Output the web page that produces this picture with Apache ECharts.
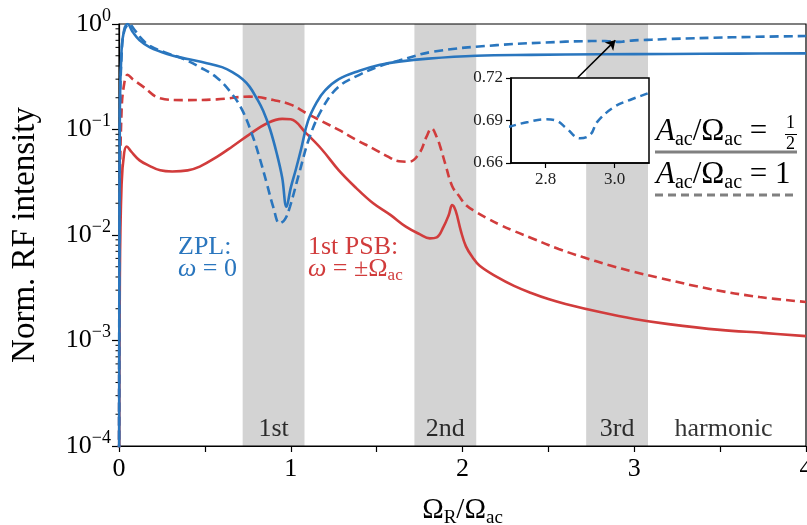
<!DOCTYPE html>
<html>
<head>
<meta charset="utf-8">
<script src="https://cdn.jsdelivr.net/npm/echarts@6/dist/echarts.min.js"></script>
<style>html,body{margin:0;padding:0;background:#fff}#main{width:807px;height:525px}</style>
</head>
<body>
<div id="main"></div>
<script>
// ZPL (omega = 0), A/Omega = 1/2 (solid) and 1 (dashed)
var xZplHalf = [0, 0.005, 0.015, 0.03, 0.05, 0.08, 0.12, 0.18, 0.28, 0.4, 0.5, 0.6, 0.66, 0.72, 0.76, 0.8, 0.84, 0.88, 0.92, 0.95, 0.975, 1.0, 1.03, 1.06, 1.1, 1.15, 1.2, 1.28, 1.4, 1.52, 1.63, 1.8, 2.08, 2.4, 2.8, 3.2, 3.6, 4.0];
var yZplHalf = [1e-5, 0.15, 0.57, 0.88, 1.0, 0.84, 0.7, 0.6, 0.52, 0.465, 0.43, 0.39, 0.35, 0.30, 0.255, 0.2, 0.15, 0.1, 0.058, 0.035, 0.0185, 0.028, 0.042, 0.065, 0.12, 0.18, 0.235, 0.3, 0.36, 0.41, 0.44, 0.47, 0.50, 0.51, 0.516, 0.52, 0.524, 0.527];

var xZplOne = [0, 0.005, 0.015, 0.03, 0.06, 0.09, 0.13, 0.18, 0.28, 0.37, 0.47, 0.57, 0.66, 0.72, 0.78, 0.82, 0.86, 0.9, 0.935, 0.965, 0.995, 1.05, 1.11, 1.19, 1.28, 1.4, 1.52, 1.63, 1.83, 2.2, 2.6, 2.7, 2.75, 2.8, 2.83, 2.86, 2.9, 2.93, 2.95, 3.0, 3.05, 3.1, 3.19, 3.57, 4.0];
var yZplOne = [1e-5, 0.12, 0.5, 0.85, 1.0, 0.88, 0.73, 0.62, 0.53, 0.47, 0.39, 0.31, 0.215, 0.15, 0.085, 0.053, 0.031, 0.018, 0.0129, 0.014, 0.0185, 0.039, 0.085, 0.165, 0.255, 0.33, 0.40, 0.45, 0.547, 0.63, 0.68, 0.686, 0.689, 0.6908, 0.690, 0.6847, 0.6774, 0.680, 0.689, 0.6997, 0.705, 0.7096, 0.72, 0.748, 0.77];

// 1st PSB (omega = +-Omega_ac)
var xPsbHalf = [0, 0.005, 0.015, 0.03, 0.045, 0.07, 0.12, 0.18, 0.24, 0.31, 0.4, 0.47, 0.57, 0.66, 0.76, 0.86, 0.95, 1.0, 1.09, 1.18, 1.28, 1.38, 1.48, 1.58, 1.67, 1.75, 1.81, 1.85, 1.89, 1.92, 1.94, 1.96, 1.99, 2.02, 2.06, 2.1, 2.2, 2.3, 2.4, 2.5, 2.6, 2.8, 3.0, 3.2, 3.5, 3.75, 4.0];
var yPsbHalf = [1e-5, 0.004, 0.03, 0.06, 0.069, 0.062, 0.051, 0.045, 0.041, 0.040, 0.041, 0.0445, 0.055, 0.069, 0.09, 0.114, 0.126, 0.125, 0.092, 0.065, 0.041, 0.028, 0.020, 0.0155, 0.012, 0.0102, 0.0093, 0.0095, 0.012, 0.0155, 0.0192, 0.017, 0.011, 0.0078, 0.0061, 0.0051, 0.0040, 0.00329, 0.00282, 0.00247, 0.00222, 0.00186, 0.0016, 0.00143, 0.00126, 0.00118, 0.0011];

var xPsbOne = [0, 0.005, 0.015, 0.03, 0.05, 0.08, 0.14, 0.24, 0.37, 0.57, 0.76, 0.9, 1.0, 1.09, 1.18, 1.28, 1.38, 1.48, 1.56, 1.63, 1.69, 1.75, 1.79, 1.82, 1.85, 1.87, 1.9, 1.94, 1.98, 2.02, 2.08, 2.14, 2.22, 2.3, 2.4, 2.56, 2.7, 2.85, 3.0, 3.15, 3.44, 3.73, 4.0];
var yPsbOne = [1e-5, 0.02, 0.15, 0.27, 0.33, 0.3, 0.255, 0.198, 0.19, 0.193, 0.205, 0.19, 0.172, 0.143, 0.12, 0.099, 0.08, 0.066, 0.056, 0.05, 0.0495, 0.06, 0.085, 0.1025, 0.085, 0.069, 0.047, 0.029, 0.0234, 0.0192, 0.0165, 0.0145, 0.01245, 0.0109, 0.00937, 0.00737, 0.00618, 0.0052, 0.00446, 0.00391, 0.00308, 0.00258, 0.00232];

var bandRanges = [[0.72, 1.08], [1.72, 2.08], [2.72, 3.08]];
var bandLabels = ['1st', '2nd', '3rd', 'harmonic'];
var bandLabelX = [0.9, 1.9, 2.9, 3.52];
var minorTicks = [];
[1e-4, 1e-3, 1e-2, 1e-1].forEach(function (d) {
	for (var k = 2; k <= 9; k++) minorTicks.push(d * k);
});
var insetTicksX = [2.8, 3.0];
var arrowFrom = [2.67, 0.31];
var arrowTo = [2.89, 0.70];

var FONT = '"Liberation Serif", "DejaVu Serif", serif';
var BLUE = '#2a76be';
var RED = '#d13c3c';

function pairs(xs, ys) {
	return xs.map(function (x, i) { return [x, ys[i]]; });
}

function supLabel(v) {
	var e = Math.round(Math.log(v) / Math.LN10);
	return '{b|10}{e|' + (e < 0 ? '\u2212' + (-e) : e) + '}';
}

var myChart = echarts.init(document.getElementById('main'));

var lineBase = {
	type: 'line', showSymbol: false, symbol: 'none', smooth: 0.4,
	clip: true, xAxisIndex: 0, yAxisIndex: 0, z: 3
};

function line(data, color, dashed, extra) {
	var s = echarts.util.extend({}, lineBase);
	s.data = data;
	s.lineStyle = { color: color, width: 2.6, type: dashed ? [9, 5] : 'solid' };
	s.itemStyle = { color: color };
	return echarts.util.extend(s, extra || {});
}

var mathRich = {
	i: { fontFamily: FONT, fontStyle: 'italic', fontSize: 31, fill: '#000', lineHeight: 36 },
	n: { fontFamily: FONT, fontSize: 31, fill: '#000', lineHeight: 36 },
	s: { fontFamily: FONT, fontSize: 20, fill: '#000', verticalAlign: 'bottom', lineHeight: 20 }
};

var option = {
	backgroundColor: '#fff',
	animation: false,
	grid: [
		{ left: 119, top: 24, right: 1, bottom: 79, outerBoundsMode: 'none', show: true, borderColor: '#000', borderWidth: 1.2, backgroundColor: 'transparent' },
		{ left: 511, top: 78, width: 138, height: 85, outerBoundsMode: 'none', show: true, borderColor: '#000', borderWidth: 1.5, backgroundColor: '#fff', z: 10 }
	],
	xAxis: [
		{
			type: 'value', gridIndex: 0, min: 0, max: 4, interval: 0.5,
			axisLine: { lineStyle: { color: '#000', width: 1.2 } },
			axisTick: { length: 6, lineStyle: { color: '#000', width: 1.2 } },
			splitLine: { show: false },
			axisLabel: {
				margin: 10, color: '#000', fontFamily: FONT, fontSize: 26,
				formatter: function (v) { return Math.abs(v - Math.round(v)) < 1e-9 ? String(Math.round(v)) : ''; }
			},
			name: '{n|\u03A9}{s|R}{n|/\u03A9}{s|ac}',
			nameLocation: 'middle', nameGap: 46,
			nameTextStyle: {
				rich: {
					n: { fontFamily: FONT, fontSize: 29, color: '#000', lineHeight: 36 },
					s: { fontFamily: FONT, fontSize: 19, color: '#000', verticalAlign: 'bottom', lineHeight: 19 }
				}
			}
		},
		{
			type: 'value', gridIndex: 1, min: 2.7, max: 3.1, z: 11,
			axisLine: { lineStyle: { color: '#000', width: 1.5 } },
			axisTick: { length: 5, customValues: insetTicksX, lineStyle: { color: '#000', width: 1.2 } },
			splitLine: { show: false },
			axisLabel: {
				customValues: insetTicksX, margin: 8, color: '#222', fontFamily: FONT, fontSize: 17,
				formatter: function (v) { return v.toFixed(1); }
			}
		}
	],
	yAxis: [
		{
			type: 'log', logBase: 10, gridIndex: 0, min: 1e-4, max: 1,
			axisLine: { show: true, lineStyle: { color: '#000', width: 1.2 } },
			axisTick: { show: true, length: 7, lineStyle: { color: '#000', width: 1.2 } },
			splitLine: { show: false },
			axisLabel: {
				margin: 8, formatter: supLabel,
				rich: {
					b: { fontFamily: FONT, fontSize: 26, color: '#000', lineHeight: 34 },
					e: { fontFamily: FONT, fontSize: 18, color: '#000', verticalAlign: 'top', lineHeight: 18 }
				}
			},
			name: 'Norm. RF intensity', nameLocation: 'middle', nameGap: 77,
			nameTextStyle: { fontFamily: FONT, fontSize: 33, color: '#000' }
		},
		{
			type: 'value', gridIndex: 1, min: 0.66, max: 0.72, interval: 0.03, z: 11,
			axisLine: { show: true, lineStyle: { color: '#000', width: 1.5 } },
			axisTick: { show: true, length: 5, lineStyle: { color: '#000', width: 1.2 } },
			splitLine: { show: false },
			axisLabel: {
				margin: 8, color: '#222', fontFamily: FONT, fontSize: 17,
				formatter: function (v) { return v.toFixed(2); }
			}
		}
	],
	series: [
		{
			type: 'custom', xAxisIndex: 0, yAxisIndex: 0, z: -1, silent: true,
			data: bandRanges.map(function (b) { return [b[0], 0.01, b[1]]; }),
			encode: { x: [0, 2], y: 1 },
			renderItem: function (params, api) {
				var a = api.coord([api.value(0), 1]);
				var b = api.coord([api.value(2), 1e-4]);
				return { type: 'rect', shape: { x: a[0], y: a[1], width: b[0] - a[0], height: b[1] - a[1] }, style: { fill: '#d3d3d3' } };
			}
		},
		{
			type: 'custom', xAxisIndex: 0, yAxisIndex: 0, silent: true, clip: false,
			data: minorTicks.map(function (v) { return [0, v]; }),
			encode: { x: 0, y: 1 },
			renderItem: function (params, api) {
				var p = api.coord([0, api.value(1)]);
				return { type: 'line', shape: { x1: p[0] - 3.5, y1: p[1], x2: p[0], y2: p[1] }, style: { stroke: '#000', lineWidth: 1 } };
			}
		},
		{
			type: 'scatter', xAxisIndex: 0, yAxisIndex: 0, symbolSize: 1, silent: true,
			itemStyle: { color: 'transparent' },
			data: bandLabels.map(function (t, i) { return { name: t, value: [bandLabelX[i], 1.45e-4] }; }),
			label: { show: true, position: 'inside', formatter: '{b}', color: '#000', fontFamily: FONT, fontSize: 26 }
		},
		line(pairs(xPsbHalf, yPsbHalf), RED, false),
		line(pairs(xPsbOne, yPsbOne), RED, true),
		line(pairs(xZplOne, yZplOne), BLUE, true, {
			markLine: {
				silent: true, symbol: ['none', 'arrow'], symbolSize: 9,
				lineStyle: { color: '#000', type: 'solid', width: 1.5 },
				label: { show: false },
				data: [[{ coord: arrowFrom }, { coord: arrowTo }]]
			}
		}),
		line(pairs(xZplHalf, yZplHalf), BLUE, false),
		line(pairs(xZplOne, yZplOne), BLUE, true, { xAxisIndex: 1, yAxisIndex: 1, z: 12, lineStyle: { color: BLUE, width: 2.5, type: [8, 5] } })
	],
	graphic: [
		{ type: 'text', left: 178, top: 234, style: { text: 'ZPL:', fill: BLUE, font: '26px ' + FONT } },
		{ type: 'text', left: 178, top: 256, style: { text: '{i|\u03C9}{n| = 0}', rich: {
			i: { fontFamily: FONT, fontStyle: 'italic', fontSize: 26, fill: BLUE },
			n: { fontFamily: FONT, fontSize: 26, fill: BLUE } } } },
		{ type: 'text', left: 308, top: 234, style: { text: '1st PSB:', fill: RED, font: '26px ' + FONT } },
		{ type: 'text', left: 308, top: 256, style: { text: '{i|\u03C9}{n| = \u00B1\u03A9}{s|ac}', rich: {
			i: { fontFamily: FONT, fontStyle: 'italic', fontSize: 26, fill: RED, lineHeight: 30 },
			n: { fontFamily: FONT, fontSize: 26, fill: RED, lineHeight: 30 },
			s: { fontFamily: FONT, fontSize: 17, fill: RED, verticalAlign: 'bottom', lineHeight: 17 } } } },
		{ type: 'text', left: 656, top: 116, z: 20, style: { text: '{i|A}{s|ac}{n|/\u03A9}{s|ac}{n| =}', rich: mathRich } },
		{ type: 'text', left: 786, top: 114, z: 20, style: { text: '1', fill: '#000', font: '18px ' + FONT } },
		{ type: 'line', z: 20, shape: { x1: 785, y1: 134.5, x2: 797, y2: 134.5 }, style: { stroke: '#000', lineWidth: 1 } },
		{ type: 'text', left: 786, top: 135, z: 20, style: { text: '2', fill: '#000', font: '18px ' + FONT } },
		{ type: 'line', z: 20, shape: { x1: 655, y1: 152, x2: 797, y2: 152 }, style: { stroke: '#808080', lineWidth: 3 } },
		{ type: 'text', left: 656, top: 159, z: 20, style: { text: '{i|A}{s|ac}{n|/\u03A9}{s|ac}{n| = 1}', rich: mathRich } },
		{ type: 'line', z: 20, shape: { x1: 655, y1: 195, x2: 797, y2: 195 }, style: { stroke: '#808080', lineWidth: 3, lineDash: [8, 5] } }
	]
};

myChart.setOption(option, true);
</script>
</body>
</html>
